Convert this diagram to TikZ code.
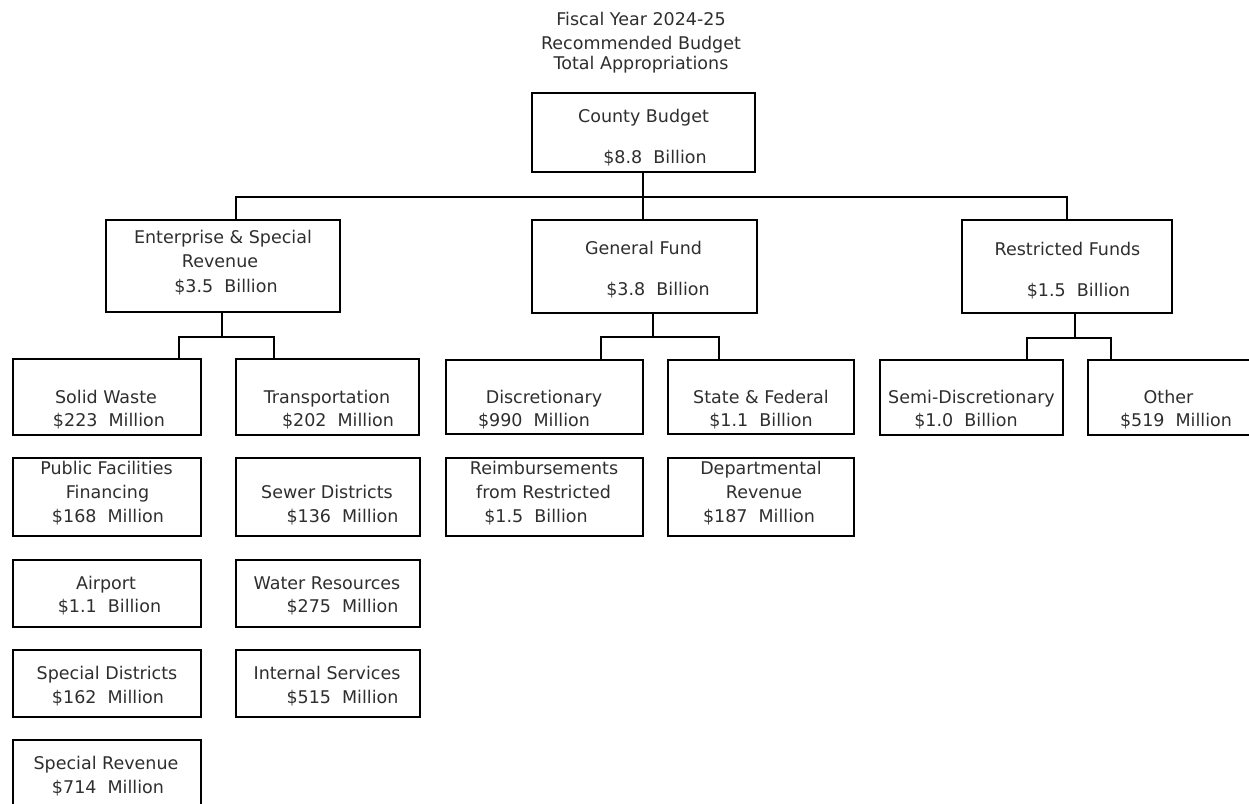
\documentclass[tikz,border=0pt]{standalone}
\usepackage{fontspec}
\setmainfont{DejaVu Sans}
\tikzset{
  box/.style={draw=black, line width=1.6pt, inner sep=0pt, rectangle},
  txt/.style={anchor=base, inner sep=0pt, text=black!82, font=\fontsize{17.5}{21}\selectfont},
  conn/.style={draw=black, line width=1.6pt},
}
\newcommand\bx[5]{\node[box, minimum width={(#4-#2)*1pt}, minimum height={(#5-#3)*1pt}] (#1) at ({(#2+#4)/2},{(#3+#5)/2}) {};}
\newcommand\tline[4]{\node[txt] (#1) at (#2,#3) {#4};}
\begin{document}
\begin{tikzpicture}[x=1pt,y=-1pt]
\useasboundingbox (0,0) rectangle (1249,803);
\clip (0,0) rectangle (1249,803);
% title
\tline{t1}{641}{25.5}{Fiscal Year 2024-25}
\tline{t2}{641}{49.5}{Recommended Budget}
\tline{t3}{641}{69.5}{Total Appropriations}
% boxes
\bx{county}{532}{93}{755}{172}
\bx{ent}{106}{220}{340}{312}
\bx{gen}{532}{220}{757}{313}
\bx{res}{962}{220}{1172}{313}
\bx{sw}{13}{359}{201}{435}
\bx{tr}{236}{359}{419}{435}
\bx{pf}{13}{458}{201}{536}
\bx{sd}{236}{458}{420}{536}
\bx{ap}{13}{560}{201}{627}
\bx{wr}{236}{560}{420}{627}
\bx{spd}{13}{650}{201}{717}
\bx{is}{236}{650}{420}{717}
\bx{sr}{13}{740}{201}{830}
\bx{disc}{446}{360}{643}{434}
\bx{sf}{668}{360}{854}{434}
\bx{reim}{446}{458}{643}{536}
\bx{dept}{668}{458}{854}{536}
\bx{semi}{880}{360}{1063}{435}
\bx{oth}{1088}{360}{1275}{435}
% texts
\tline{county1}{643.5}{122}{County Budget}
\tline{county2}{655}{163}{\$8.8~~Billion}
\tline{gen1}{643.5}{254}{General Fund}
\tline{gen2}{658}{295}{\$3.8~~Billion}
\tline{res1}{1067.5}{255}{Restricted Funds}
\tline{res2}{1078.5}{296}{\$1.5~~Billion}
\tline{ent1}{223}{243}{Enterprise \& Special}
\tline{ent2}{220}{267}{Revenue}
\tline{ent3}{226}{292}{\$3.5~~Billion}
\tline{sw1}{106}{403}{Solid Waste}
\tline{sw2}{109}{426}{\$223~~Million}
\tline{tr1}{327}{403}{Transportation}
\tline{tr2}{338}{426}{\$202~~Million}
\tline{disc1}{544}{403}{Discretionary}
\tline{disc2}{534}{426}{\$990~~Million}
\tline{sf1}{761}{403}{State \& Federal}
\tline{sf2}{761}{426}{\$1.1~~Billion}
\tline{semi1}{971.5}{403}{Semi-Discretionary}
\tline{semi2}{966}{426}{\$1.0~~Billion}
\tline{oth1}{1168.5}{403}{Other}
\tline{oth2}{1176}{426}{\$519~~Million}
\tline{pf1}{106.5}{474}{Public Facilities}
\tline{pf2}{107.5}{498}{Financing}
\tline{pf3}{108}{522}{\$168~~Million}
\tline{reim1}{544}{474}{Reimbursements}
\tline{reim2}{543.5}{498}{from Restricted}
\tline{reim3}{536}{522}{\$1.5~~Billion}
\tline{dept1}{761}{474}{Departmental}
\tline{dept2}{764}{498}{Revenue}
\tline{dept3}{759}{522}{\$187~~Million}
\tline{sd1}{327}{498}{Sewer Districts}
\tline{sd2}{342.5}{522}{\$136~~Million}
\tline{ap1}{106}{589}{Airport}
\tline{ap2}{109.5}{612}{\$1.1~~Billion}
\tline{wr1}{327}{589}{Water Resources}
\tline{wr2}{342.5}{612}{\$275~~Million}
\tline{spd1}{107}{679}{Special Districts}
\tline{spd2}{108}{703}{\$162~~Million}
\tline{is1}{327}{679}{Internal Services}
\tline{is2}{342.5}{703}{\$515~~Million}
\tline{sr1}{106}{769}{Special Revenue}
\tline{sr2}{108}{793}{\$714~~Million}
% connector coordinates
\coordinate (cx) at (643,0);
\coordinate (bl) at (236,197);
\coordinate (br) at (1067,197);
\coordinate (es) at (222,337);
\coordinate (el) at (179,337);
\coordinate (er) at (274,337);
\coordinate (gs) at (653,337);
\coordinate (gl) at (601,337);
\coordinate (gr) at (719,337);
\coordinate (rs) at (1075,338);
\coordinate (rl) at (1027,338);
\coordinate (rr) at (1111,338);
% connectors
\draw[conn] (county.south -| cx) -- (gen.north -| cx);
\draw[conn] (ent.north -| bl) -- (bl) -- (br) -- (res.north -| br);
\draw[conn] (ent.south -| es) -- (es);
\draw[conn] (sw.north -| el) -- (el) -- (er) -- (tr.north -| er);
\draw[conn] (gen.south -| gs) -- (gs);
\draw[conn] (disc.north -| gl) -- (gl) -- (gr) -- (sf.north -| gr);
\draw[conn] (res.south -| rs) -- (rs);
\draw[conn] (semi.north -| rl) -- (rl) -- (rr) -- (oth.north -| rr);
\end{tikzpicture}
\end{document}
